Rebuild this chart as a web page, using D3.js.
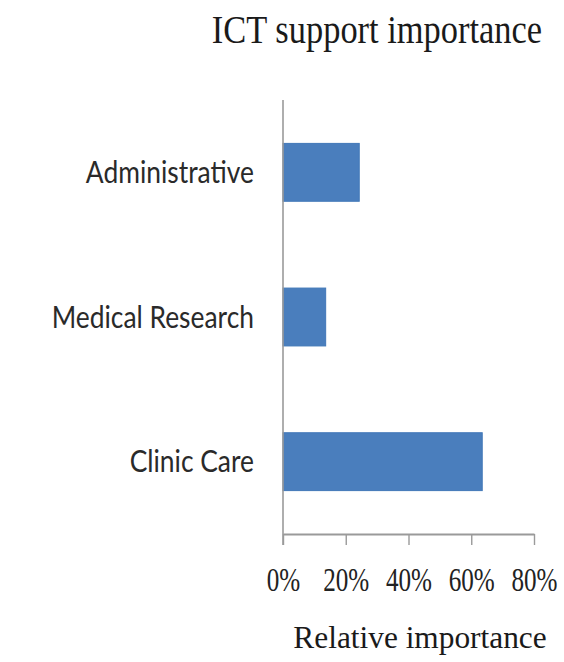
<!DOCTYPE html>
<html>
<head>
<meta charset="utf-8">
<script src="https://cdn.jsdelivr.net/npm/d3@7"></script>
<style>
  html, body { margin: 0; padding: 0; background: #ffffff; }
  svg { display: block; }
</style>
</head>
<body>
<script>
// ---- data ----
const categories = ["Administrative", "Medical Research", "Clinic Care"];
const values = [0.243, 0.136, 0.635];
const xTicks = [0, 0.2, 0.4, 0.6, 0.8];
const titleText = "ICT support importance";
const xAxisTitle = "Relative importance";

// ---- layout ----
const W = 564, H = 662;
const plot = { left: 283, right: 534, top: 100, bottom: 534 };

const svg = d3.select("body").append("svg")
  .attr("width", W).attr("height", H);

const x = d3.scaleLinear().domain([0, 0.8]).range([plot.left, plot.right]);
const y = d3.scaleBand().domain(categories)
  .range([plot.top, plot.bottom]).paddingInner(0.6).paddingOuter(0.3);

// horizontally condensed text placed at (px, py)
function condensedText(parent, px, py, k) {
  return parent.append("g")
    .attr("transform", `translate(${px},${py}) scale(${k},1)`)
    .append("text");
}

// bars
svg.append("g").selectAll("rect")
  .data(categories.map((c, i) => ({ c, v: values[i] })))
  .join("rect")
  .attr("x", x(0))
  .attr("y", d => y(d.c))
  .attr("width", d => x(d.v) - x(0))
  .attr("height", y.bandwidth())
  .attr("fill", "#4a7ebd")
  .attr("stroke", "#4278b8")
  .attr("stroke-width", 1);

// y axis line
const axisColor = "#9a9a9a";
svg.append("line")
  .attr("x1", x(0)).attr("x2", x(0))
  .attr("y1", plot.top).attr("y2", plot.bottom + 11)
  .attr("stroke", axisColor).attr("stroke-width", 1.6);

// x axis
const xAxis = d3.axisBottom(x).tickValues(xTicks)
  .tickFormat(d3.format(".0%")).tickSize(11).tickSizeOuter(0).tickPadding(22);
const gx = svg.append("g")
  .attr("transform", `translate(0,${plot.bottom})`)
  .call(xAxis);
gx.select(".domain").attr("stroke", axisColor).attr("stroke-width", 2);
gx.selectAll(".tick line").attr("stroke", axisColor).attr("stroke-width", 1.4);
gx.selectAll(".tick text")
  .attr("fill", "#222")
  .style("font-family", "'Liberation Serif', 'Times New Roman', serif")
  .style("font-size", "34px")
  .attr("dy", "0.71em")
  .attr("transform", "scale(0.74,1)");

// category labels
const labelG = svg.append("g");
categories.forEach(c => {
  condensedText(labelG, plot.left - 29, y(c) + y.bandwidth() / 2, 0.88)
    .attr("dy", "0.36em")
    .attr("text-anchor", "end")
    .attr("fill", "#2a2a2a")
    .style("font-family", "Lato, 'Open Sans', sans-serif")
    .style("font-size", "30px")
    .text(c);
});

// title
condensedText(svg, 377, 43, 0.84)
  .attr("text-anchor", "middle")
  .attr("fill", "#1a1a1a")
  .style("font-family", "'Liberation Serif', 'Times New Roman', serif")
  .style("font-size", "41px")
  .text(titleText);

// x axis title
condensedText(svg, 420, 648, 0.98)
  .attr("text-anchor", "middle")
  .attr("fill", "#1a1a1a")
  .style("font-family", "'Liberation Serif', 'Times New Roman', serif")
  .style("font-size", "32px")
  .text(xAxisTitle);
</script>
</body>
</html>
